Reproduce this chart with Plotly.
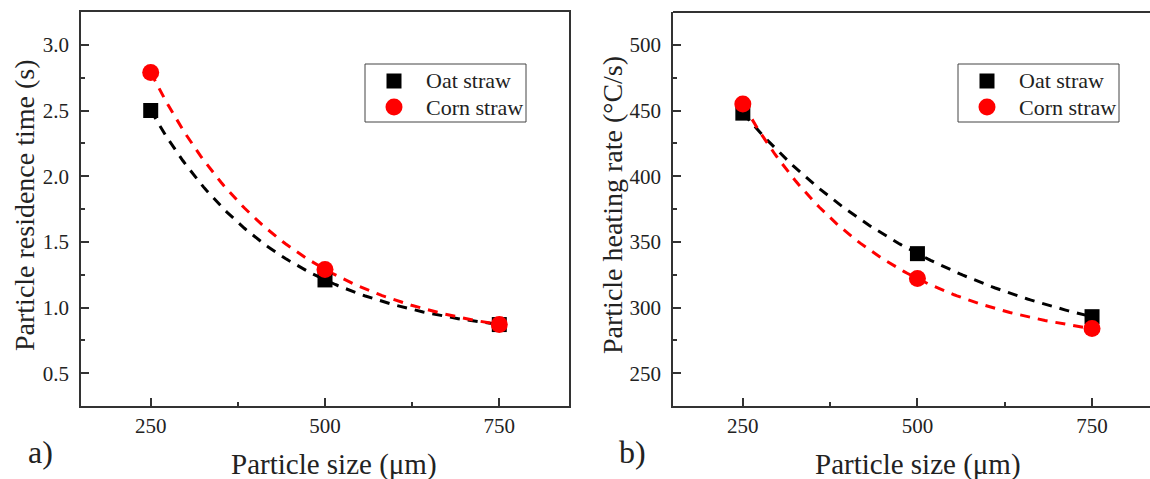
import numpy as np
import plotly.graph_objects as go

# ---------------- data ----------------
particle_size = [250, 500, 750]
oat_residence = [2.50, 1.21, 0.87]
corn_residence = [2.79, 1.29, 0.87]
oat_heating = [448, 341, 293]
corn_heating = [455, 322, 284]

series_names = ["Oat straw", "Corn straw"]
x_ticks = [250, 500, 750]

W, H = 1150, 479
FONT = "Liberation Serif"
TXT = "#222222"
AX = "#333333"
BLACK = "#000000"
RED = "#FF0000"


def fit_curve(xs, ys, n=120):
    """Exponential decay y = a + b*r**k passing through 3 equally spaced points."""
    x0, x1, x2 = xs
    y0, y1, y2 = ys
    r = (y2 - y1) / (y1 - y0)
    b = (y1 - y0) / (r - 1)
    a = y0 - b
    step = x1 - x0
    xx = np.linspace(x0, x2, n)
    yy = a + b * r ** ((xx - x0) / step)
    return xx, yy


def px(x):
    return x / W


def py(y):
    return 1 - y / H


fig = go.Figure()

panels = [
    ("x", "y", oat_residence, corn_residence),
    ("x2", "y2", oat_heating, corn_heating),
]
for xa, ya, oat, corn in panels:
    for vals, col in [(oat, BLACK), (corn, RED)]:
        xx, yy = fit_curve(particle_size, vals)
        fig.add_trace(go.Scatter(x=xx, y=yy, mode="lines", xaxis=xa, yaxis=ya,
                                 line=dict(color=col, width=3, dash="10px,8px"),
                                 showlegend=False, hoverinfo="skip"))
    fig.add_trace(go.Scatter(x=particle_size, y=oat, mode="markers", name=series_names[0],
                             xaxis=xa, yaxis=ya, showlegend=False,
                             marker=dict(symbol="square", size=15, color=BLACK)))
    fig.add_trace(go.Scatter(x=particle_size, y=corn, mode="markers", name=series_names[1],
                             xaxis=xa, yaxis=ya, showlegend=False,
                             marker=dict(symbol="circle", size=17, color=RED)))

ydom = [py(406), py(12)]
common_axis = dict(showline=True, linecolor=AX, linewidth=1.8, ticks="inside",
                   ticklen=8, tickwidth=1.5, tickcolor=AX, showgrid=False,
                   zeroline=False, automargin=False,
                   tickfont=dict(family=FONT, size=21, color=TXT))

fig.update_layout(
    width=W, height=H,
    margin=dict(l=0, r=0, t=0, b=0),
    paper_bgcolor="white", plot_bgcolor="white",
    font=dict(family=FONT, color=TXT),
    showlegend=False,
    xaxis=dict(domain=[px(81), px(569)], range=[150, 850], tickvals=x_ticks,
               mirror=True, anchor="y", ticklabelstandoff=0,
               minor=dict(dtick=125, tick0=250, ticklen=4, tickwidth=1.5, tickcolor=AX, ticks="inside"),
               **common_axis),
    yaxis=dict(domain=ydom, range=[0.25, 3.25], dtick=0.5, tick0=0.5, tickformat=".1f",
               mirror=True, anchor="x", ticklabelstandoff=6,
               minor=dict(dtick=0.25, tick0=0.25, ticklen=4, tickwidth=1.5, tickcolor=AX, ticks="inside"),
               **common_axis),
    xaxis2=dict(domain=[px(673), 1.0], range=[150, 833], tickvals=x_ticks,
                mirror=False, anchor="y2", ticklabelstandoff=0,
                minor=dict(dtick=125, tick0=250, ticklen=4, tickwidth=1.5, tickcolor=AX, ticks="inside"),
                **common_axis),
    yaxis2=dict(domain=ydom, range=[225, 525], dtick=50, tick0=250,
                mirror=False, anchor="x2", ticklabelstandoff=6,
                minor=dict(dtick=25, tick0=225, ticklen=4, tickwidth=1.5, tickcolor=AX, ticks="inside"),
                **common_axis),
)

# top border line of right panel (no right spine visible)
fig.add_shape(type="line", xref="paper", yref="paper", x0=px(673), x1=1.0,
              y0=py(12), y1=py(12), line=dict(color=AX, width=1.8))

# ---- legends (drawn as boxes with symbol shapes and text) ----
for bx in (365, 958):
    fig.add_shape(type="rect", xref="paper", yref="paper",
                  x0=px(bx), x1=px(bx + 161), y0=py(122), y1=py(64),
                  line=dict(color="#444444", width=1), fillcolor="white")
    mx = bx + 29
    # square symbol
    fig.add_shape(type="rect", xref="paper", yref="paper",
                  x0=px(mx - 7.5), x1=px(mx + 7.5), y0=py(81 + 7.5), y1=py(81 - 7.5),
                  line=dict(width=0), fillcolor=BLACK)
    # circle symbol
    fig.add_shape(type="circle", xref="paper", yref="paper",
                  x0=px(mx - 8.5), x1=px(mx + 8.5), y0=py(107 + 8.5), y1=py(107 - 8.5),
                  line=dict(width=0), fillcolor=RED)
    for name, yy in zip(series_names, (81, 107)):
        fig.add_annotation(text=name, x=px(bx + 59), y=py(yy), xref="paper", yref="paper",
                           xanchor="left", yanchor="middle", showarrow=False,
                           font=dict(family=FONT, size=22, color=TXT))

annots = [
    dict(text="Particle size (μm)", x=px(334), y=py(464), size=29, angle=0),
    dict(text="Particle size (μm)", x=px(918), y=py(464), size=29, angle=0),
    dict(text="Particle residence time (s)", x=px(24), y=py(205), size=28, angle=-90),
    dict(text="Particle heating rate (°C/s)", x=px(612), y=py(205), size=28, angle=-90),
    dict(text="a)", x=px(40), y=py(452), size=32, angle=0),
    dict(text="b)", x=px(632), y=py(452), size=32, angle=0),
]
for a in annots:
    fig.add_annotation(text=a["text"], x=a["x"], y=a["y"], xref="paper", yref="paper",
                       xanchor="center", yanchor="middle", showarrow=False,
                       textangle=a["angle"],
                       font=dict(family=FONT, size=a["size"], color=TXT))

fig.write_html("out.html")
